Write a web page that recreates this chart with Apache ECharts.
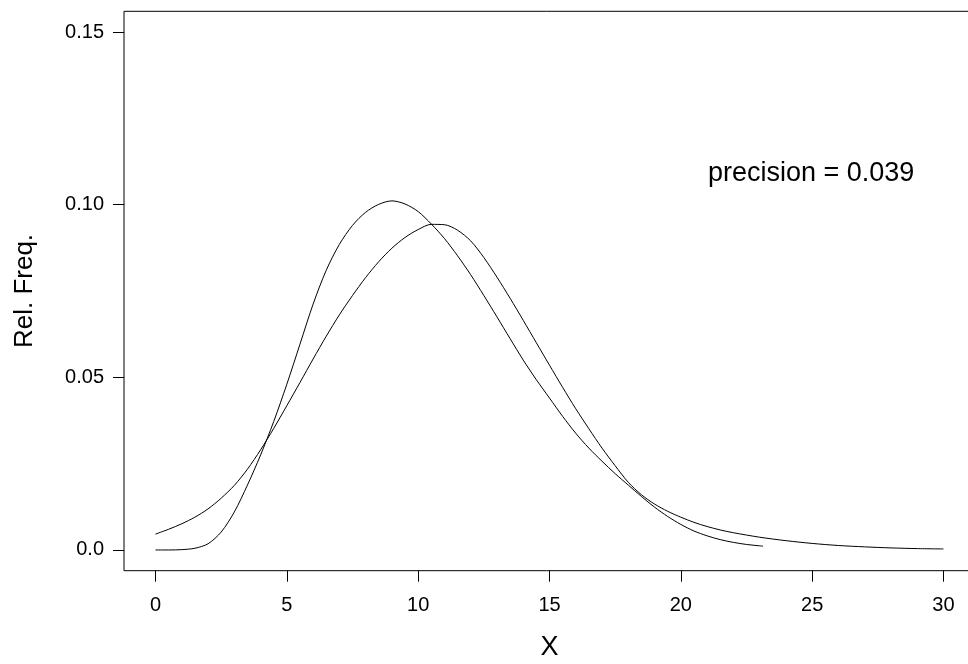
<!DOCTYPE html>
<html>
<head>
<meta charset="utf-8">
<script src="https://cdn.jsdelivr.net/npm/echarts@6.0.0/dist/echarts.min.js"></script>
<style>html,body{margin:0;padding:0;background:#fff;}#c{width:968px;height:664px;}</style>
</head>
<body>
<div id="c"></div>
<script>
// Curve A (narrower, peaks ~0.101 near x = 9, ends near x = 23.1)
const curveAx = [0,0.5,1.0,1.5,2.0,2.5,3.0,3.5,4.0,4.5,5.0,5.5,6.0,6.5,7.0,7.5,8.0,8.5,9.0,9.5,10.0,10.5,11.0,11.5,12.0,12.5,13.0,13.5,14.0,14.5,15.0,15.5,16.0,16.5,17.0,17.5,18.0,18.5,19.0,19.5,20.0,20.5,21.0,21.5,22.0,22.5,23.0,23.13];
const curveAy = [0,0.0000,0.0001,0.0005,0.0018,0.0052,0.0110,0.0188,0.0275,0.0372,0.0480,0.0596,0.0712,0.0810,0.0885,0.0940,0.0978,0.1001,0.1011,0.1002,0.0980,0.0944,0.0902,0.0852,0.0797,0.0737,0.0675,0.0612,0.0550,0.0493,0.0440,0.0387,0.0338,0.0295,0.0257,0.0221,0.0188,0.0155,0.0124,0.0097,0.0074,0.0055,0.0041,0.0030,0.0022,0.0016,0.0012,0.0011];
// Curve B (wider, peaks ~0.0945 near x = 10.7, long right tail to x = 30)
const curveBx = [0,0.5,1.0,1.5,2.0,2.5,3.0,3.5,4.0,4.5,5.0,5.5,6.0,6.5,7.0,7.5,8.0,8.5,9.0,9.5,10.0,10.5,11.0,11.5,12.0,12.5,13.0,13.5,14.0,14.5,15.0,15.5,16.0,16.5,17.0,17.5,18.0,18.5,19.0,19.5,20.0,20.5,21.0,21.5,22.0,23.0,24.0,25.0,26.0,27.0,28.0,29.0,30.0];
const curveBy = [0.0046,0.0060,0.0076,0.0095,0.0119,0.0150,0.0187,0.0234,0.0290,0.0352,0.0418,0.0485,0.0553,0.0619,0.0681,0.0737,0.0789,0.0835,0.0874,0.0905,0.0928,0.0943,0.0942,0.0926,0.0895,0.0847,0.0790,0.0729,0.0665,0.0600,0.0535,0.0471,0.0409,0.0351,0.0295,0.0244,0.0196,0.0160,0.0133,0.0112,0.0095,0.0080,0.0068,0.0058,0.0050,0.0037,0.0027,0.0019,0.0013,0.0009,0.0006,0.0004,0.0003];
const xTicks = [0,5,10,15,20,25,30];
const yTicks = [0,0.05,0.10,0.15];
const yTickLabels = ['0.0','0.05','0.10','0.15'];
const annotation = 'precision = 0.039';

const pairs = (xs, ys) => xs.map((x, i) => [x, ys[i]]);
const FONT = '"Liberation Sans", Arial, Helvetica, sans-serif';

const chart = echarts.init(document.getElementById('c'), null, {renderer: 'canvas'});
chart.setOption({
  animation: false,
  backgroundColor: '#fff',
  grid: {left: 124, top: 11.3, width: 851, height: 559.4, containLabel: false, outerBoundsMode: 'none',
    show: true, borderColor: '#000', borderWidth: 1, backgroundColor: 'transparent'},
  xAxis: {
    type: 'value', min: -1.2, max: 31.2,
    name: 'X', nameLocation: 'middle', nameGap: 63,
    nameTextStyle: {fontFamily: FONT, fontSize: 27, color: '#000'},
    axisLine: {show: false, onZero: false},
    splitLine: {show: false},
    axisTick: {show: true, length: 11, customValues: xTicks, lineStyle: {color: '#000', width: 1}},
    axisLabel: {customValues: xTicks, margin: 25, fontFamily: FONT, fontSize: 20, color: '#000', formatter: v => String(v)}
  },
  yAxis: {
    type: 'value', min: -0.006, max: 0.156,
    name: 'Rel. Freq.', nameLocation: 'middle', nameGap: 86, nameRotate: 90,
    nameTextStyle: {fontFamily: FONT, fontSize: 26, color: '#000'},
    axisLine: {show: false, onZero: false},
    splitLine: {show: false},
    axisTick: {show: true, length: 11, customValues: yTicks, lineStyle: {color: '#000', width: 1}},
    axisLabel: {customValues: yTicks, margin: 20, fontFamily: FONT, fontSize: 20, color: '#000',
      formatter: v => { const i = yTicks.findIndex(t => Math.abs(t - v) < 1e-9); return i >= 0 ? yTickLabels[i] : ''; }}
  },
  graphic: [{
    type: 'text', left: 708, top: 160,
    style: {text: annotation, fontFamily: FONT, fontSize: 27, fill: '#000'}
  }],
  series: [
    {type: 'line', data: pairs(curveAx, curveAy), smooth: 0.3, showSymbol: false, symbol: 'none', lineStyle: {color: '#000', width: 1}},
    {type: 'line', data: pairs(curveBx, curveBy), smooth: 0.3, showSymbol: false, symbol: 'none', lineStyle: {color: '#000', width: 1}}
  ]
});
</script>
</body>
</html>
